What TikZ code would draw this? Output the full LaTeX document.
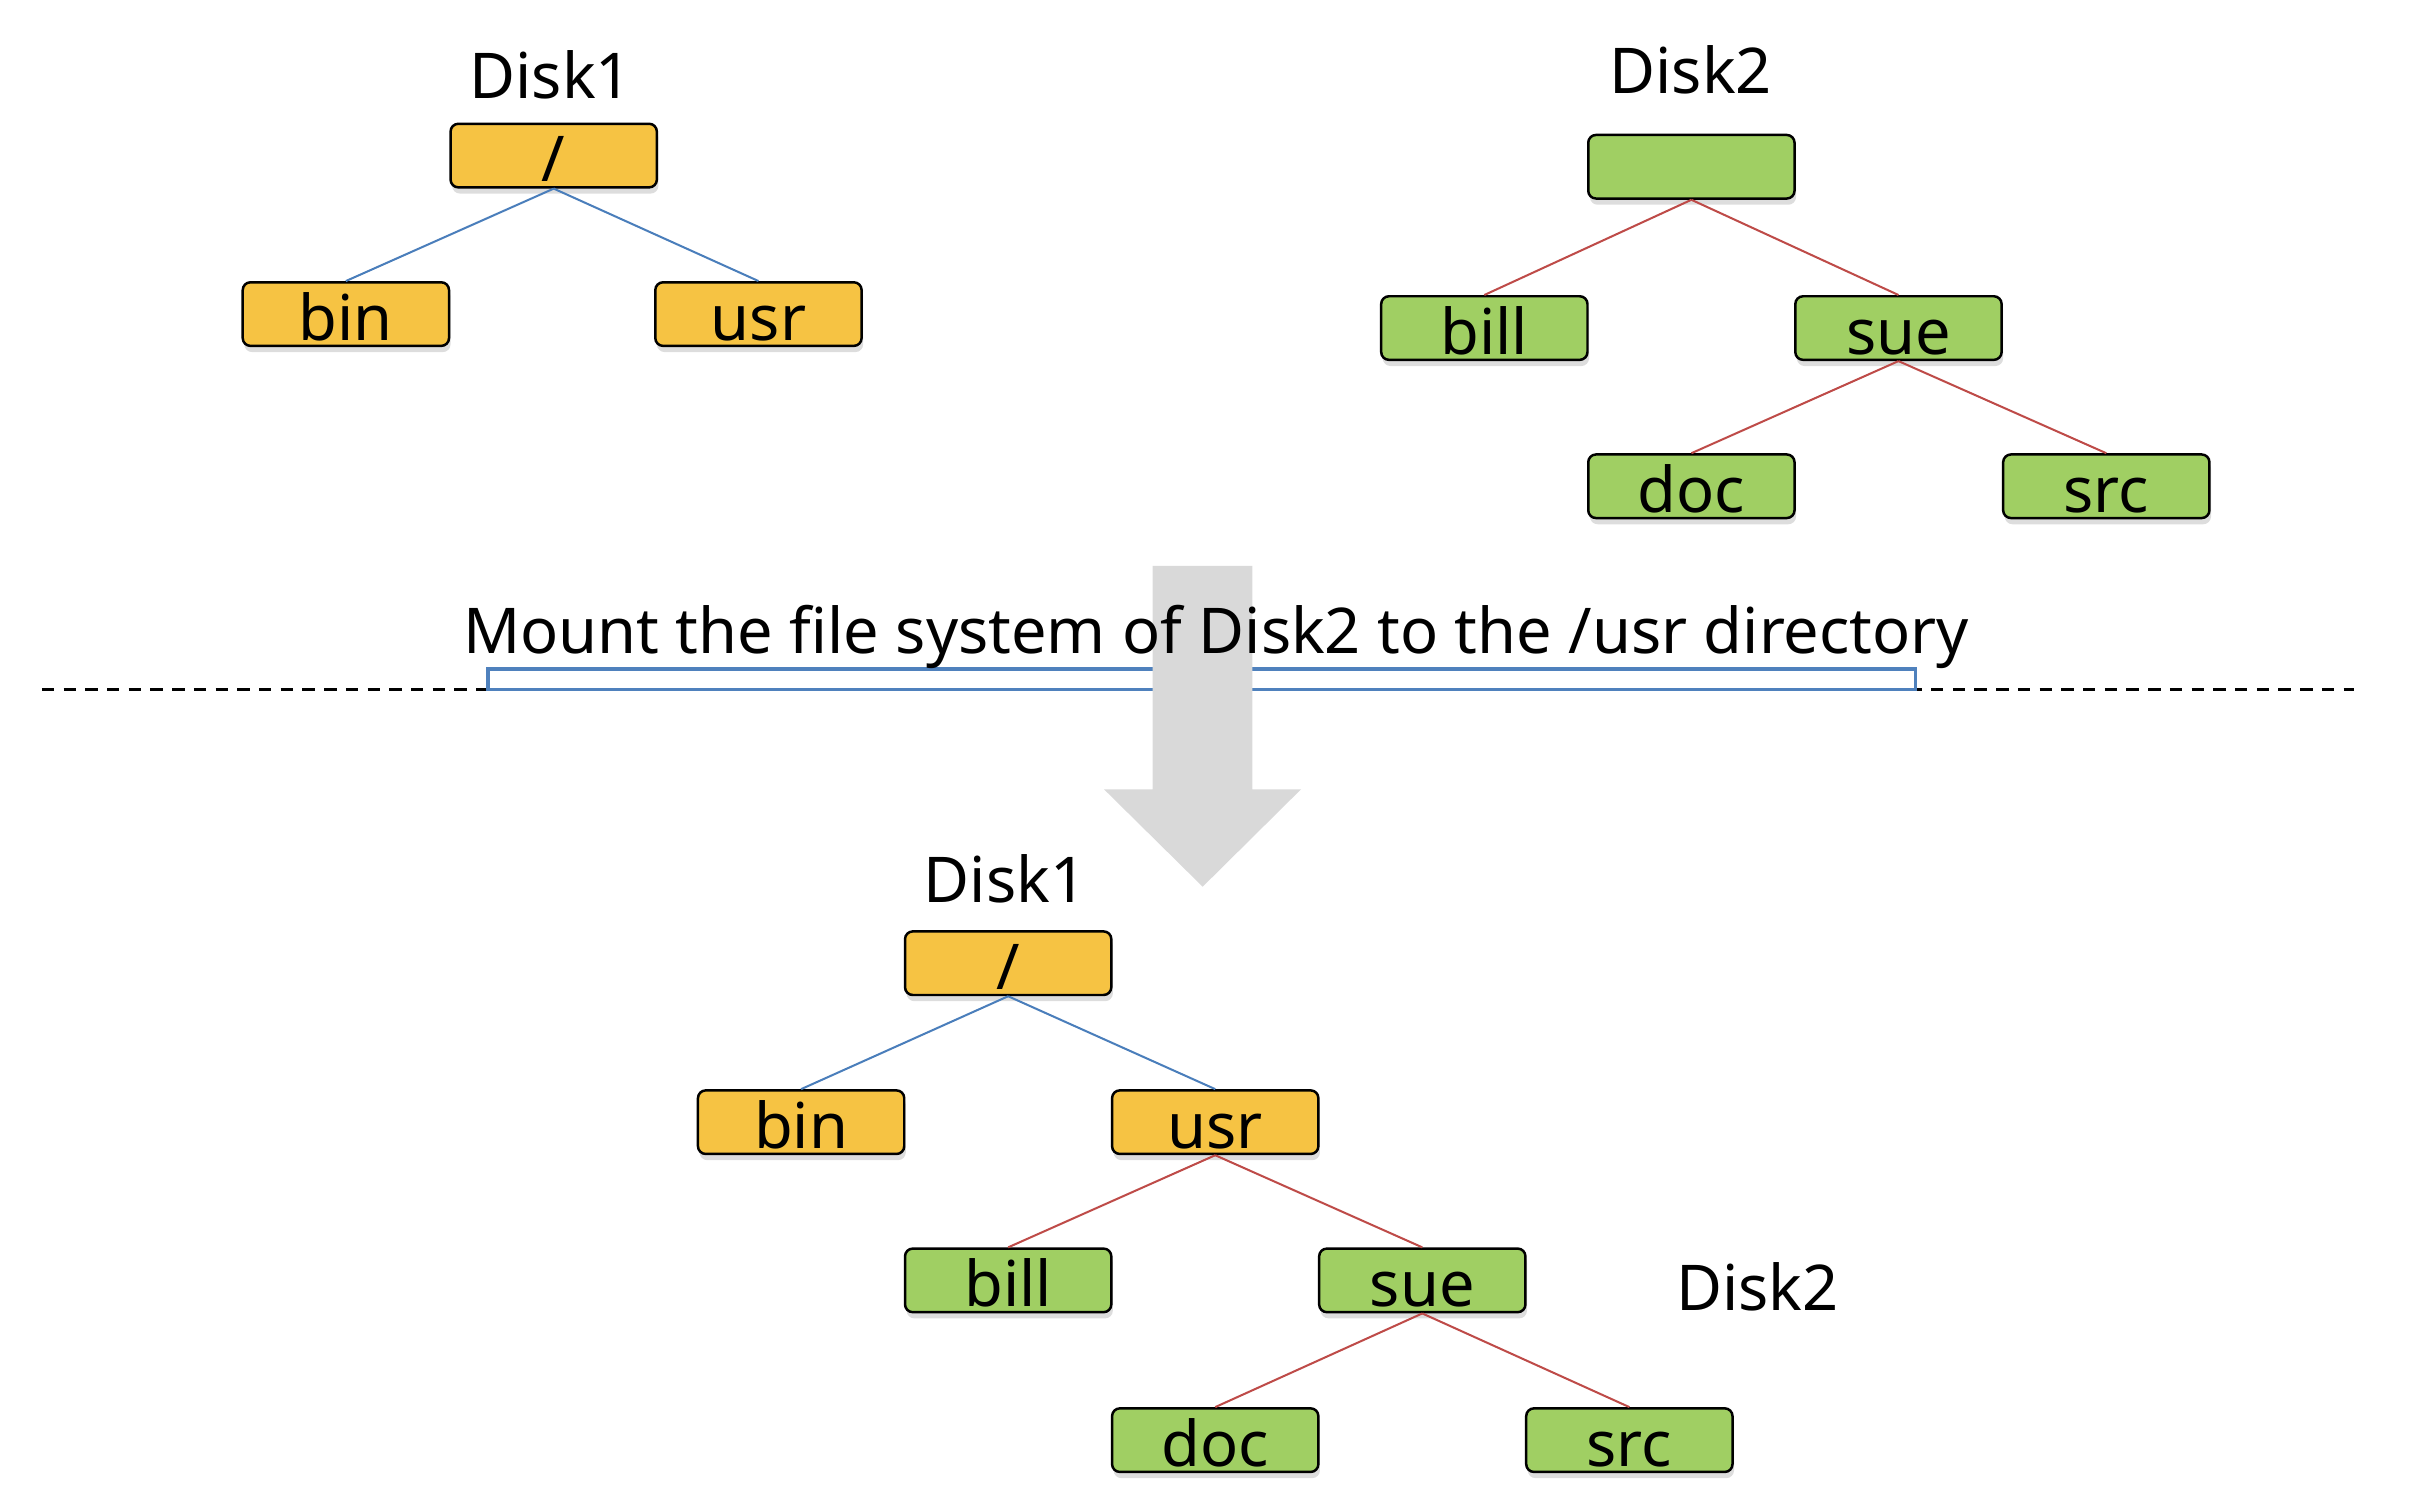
\documentclass[tikz,border=0pt]{standalone}
\usepackage{fontspec}
\setmainfont{Noto Sans}
\usetikzlibrary{shadows}
\definecolor{dorange}{HTML}{F6C343}
\definecolor{dgreen}{HTML}{A0CF63}
\definecolor{lblue}{HTML}{4A7EBB}
\definecolor{lred}{HTML}{BE4B48}
\definecolor{rblue}{HTML}{4F81BD}
\definecolor{agray}{HTML}{D9D9D9}
\begin{document}
\begin{tikzpicture}[x=1pt,y=-1pt,
  every node/.style={font=\fontsize{40.7}{40.7}\selectfont},
  dirbox/.style={draw=black, line width=1.6pt, rounded corners=5pt,
    minimum width=133pt, inner sep=0pt, text height=37.5pt, text depth=3.5pt,
    drop shadow={shadow xshift=1pt, shadow yshift=-4pt, opacity=0.22, fill=black!60}},
  obox/.style={dirbox, fill=dorange},
  gbox/.style={dirbox, fill=dgreen},
  bedge/.style={draw=lblue, line width=1.3pt},
  redge/.style={draw=lred, line width=1.3pt},
  lbl/.style={anchor=base, inner sep=0pt}]
\useasboundingbox (0,0) rectangle (1568,967);
% top left: Disk1
\node[lbl] (d1t) at (355,63.4) {Disk1};
\node[obox] (r1) at (357,100.3) {/};
\node[obox] (bin1) at (223,202.5) {bin};
\node[obox] (usr1) at (489,202.5) {usr};
\draw[bedge] (r1.south) -- (bin1.north);
\draw[bedge] (r1.south) -- (usr1.north);
% top right: Disk2
\node[lbl] (d2t) at (1090,60) {Disk2};
\node[gbox] (r2) at (1090.5,107.5) {};
\node[gbox] (bill2) at (957,211.5) {bill};
\node[gbox] (sue2) at (1224,211.5) {sue};
\node[gbox] (doc2) at (1090.5,313.5) {doc};
\node[gbox] (src2) at (1358,313.5) {src};
\draw[redge] (r2.south) -- (bill2.north);
\draw[redge] (r2.south) -- (sue2.north);
\draw[redge] (sue2.south) -- (doc2.north);
\draw[redge] (sue2.south) -- (src2.north);
% separator, box, arrow, caption
\draw[line width=1.8pt, dash pattern=on 8pt off 6pt] (27,444.5) -- (1518,444.5);
\draw[draw=rblue, fill=white, line width=2pt] (314.6,431.3) rectangle (1235,444.5);
\fill[agray] (743.2,364.9) -- (807.4,364.9) -- (807.4,508.9) -- (838.8,508.9)
  -- (775.4,571.7) -- (711.8,508.9) -- (743.2,508.9) -- cycle;
\node[lbl] (cap) at (784,421.2) {Mount the file system of Disk2 to the /usr directory};
% bottom: merged tree
\node[lbl] (d1b) at (648,582) {Disk1};
\node[obox] (r3) at (650,621) {/};
\node[obox] (bin3) at (516.5,723.5) {bin};
\node[obox] (usr3) at (783.5,723.5) {usr};
\node[gbox] (bill3) at (650,825.5) {bill};
\node[gbox] (sue3) at (917,825.5) {sue};
\node[gbox] (doc3) at (783.5,928.5) {doc};
\node[gbox] (src3) at (1050.5,928.5) {src};
\node[lbl] (d2b) at (1133,844.6) {Disk2};
\draw[bedge] (r3.south) -- (bin3.north);
\draw[bedge] (r3.south) -- (usr3.north);
\draw[redge] (usr3.south) -- (bill3.north);
\draw[redge] (usr3.south) -- (sue3.north);
\draw[redge] (sue3.south) -- (doc3.north);
\draw[redge] (sue3.south) -- (src3.north);
\end{tikzpicture}
\end{document}
